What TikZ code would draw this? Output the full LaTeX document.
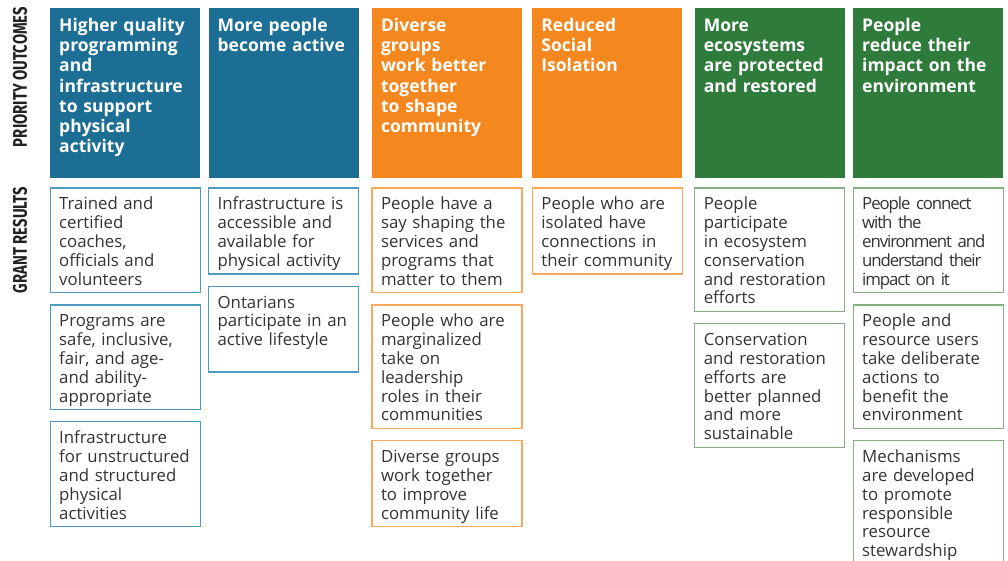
\documentclass[tikz,border=0pt]{standalone}
\usepackage{fontspec}
\setmainfont{Open Sans}
\newfontfamily\labelfont{Fira Sans}
\newfontfamily\tightfont[LetterSpace=-6.5]{Open Sans}
\usetikzlibrary{positioning}
\definecolor{otfblue}{HTML}{1C6E94}
\definecolor{otforange}{HTML}{F5871F}
\definecolor{otfgreen}{HTML}{2E7B3B}
\definecolor{blueline}{HTML}{4F9AC0}
\definecolor{orangeline}{HTML}{F9A85E}
\definecolor{greenline}{HTML}{86B082}
\definecolor{bodygray}{HTML}{333333}
\definecolor{labelgray}{HTML}{222222}
\tikzstyle{outcome} = [rectangle, inner xsep=9pt, inner ysep=0pt, text width=132pt, text height=23pt, text depth=147pt, align=left, text=white, font=\fontsize{17.5pt}{20.3pt}\selectfont\bfseries]
\tikzstyle{result} = [rectangle, line width=1.2pt, inner xsep=9pt, inner ysep=0pt, text width=132pt, text height=22pt, align=left, text=bodygray, font=\fontsize{16.8pt}{18.8pt}\selectfont, execute at end node={\rule[-7.5pt]{0pt}{7.5pt}}]
\tikzstyle{sidelabel} = [rotate=90, inner sep=0pt, text=labelgray]

\begin{document}
\begin{tikzpicture}[x=1pt, y=-1pt]
	\clip (0,0) rectangle (1008,561);

	\node (prio) [sidelabel] at (20,77) {\resizebox{140pt}{14pt}{\labelfont\bfseries PRIORITY OUTCOMES}};
	\node (grant) [sidelabel] at (20,240) {\resizebox{106pt}{14pt}{\labelfont\bfseries GRANT RESULTS}};

	\node (h1) [outcome, fill=otfblue, anchor=north west] at (50,8) {Higher quality\\programming\\and\\infrastructure\\to support\\physical\\activity};
	\node (h2) [outcome, fill=otfblue, right=8pt of h1] {More people\\become active};
	\node (h3) [outcome, fill=otforange, right=13pt of h2] {Diverse\\groups\\work better\\together\\to shape\\community};
	\node (h4) [outcome, fill=otforange, right=10pt of h3] {Reduced\\Social\\Isolation};
	\node (h5) [outcome, fill=otfgreen, right=12pt of h4] {More\\ecosystems\\are protected\\and restored};
	\node (h6) [outcome, fill=otfgreen, right=8pt of h5] {People\\reduce their\\impact on the\\environment};

	\node (r11) [result, draw=blueline, below=9pt of h1] {Trained and\\certified\\coaches,\\officials and\\volunteers};
	\node (r12) [result, draw=blueline, below=11pt of r11] {Programs are\\safe, inclusive,\\fair, and age-\\and ability-\\appropriate};
	\node (r13) [result, draw=blueline, below=11pt of r12] {Infrastructure\\for unstructured\\and structured\\physical\\activities};

	\node (r21) [result, draw=blueline, below=9pt of h2] {Infrastructure is\\accessible and\\available for\\physical activity};
	\node (r22) [result, draw=blueline, text depth=63.9pt, below=11pt of r21] {Ontarians\\participate in an\\active lifestyle};

	\node (r31) [result, draw=orangeline, below=9pt of h3] {People have a\\say shaping the\\services and\\programs that\\matter to them};
	\node (r32) [result, draw=orangeline, below=11pt of r31] {People who are\\marginalized\\take on\\leadership\\roles in their\\communities};
	\node (r33) [result, draw=orangeline, below=11pt of r32] {Diverse groups\\work together\\to improve\\community life};

	\node (r41) [result, draw=orangeline, below=9pt of h4] {People who are\\isolated have\\connections in\\their community};

	\node (r51) [result, draw=greenline, below=9pt of h5] {People\\participate\\in ecosystem\\conservation\\and restoration\\efforts};
	\node (r52) [result, draw=greenline, below=11pt of r51] {Conservation\\and restoration\\efforts are\\better planned\\and more\\sustainable};

	\node (r61) [result, draw=greenline, below=9pt of h6] {\tightfont People connect\\with the\\environment and\\understand their\\impact on it};
	\node (r62) [result, draw=greenline, below=11pt of r61] {People and\\resource users\\take deliberate\\actions to\\benefit the\\environment};
	\node (r63) [result, draw=greenline, below=11pt of r62] {Mechanisms\\are developed\\to promote\\responsible\\resource\\stewardship};
\end{tikzpicture}
\end{document}
